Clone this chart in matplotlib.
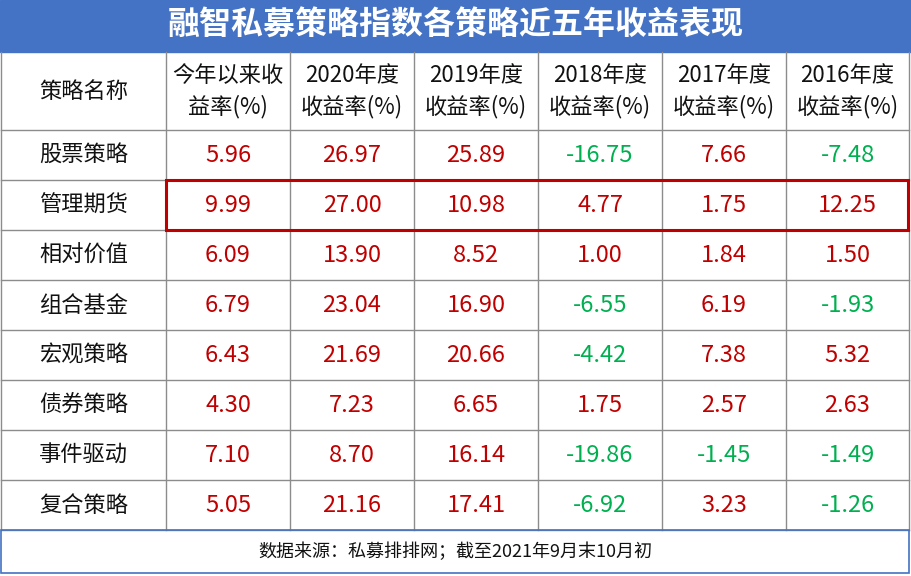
import matplotlib
matplotlib.use("Agg")
import matplotlib.pyplot as plt
from matplotlib.patches import Rectangle

plt.rcParams['font.family'] = ['Noto Sans CJK SC', 'DejaVu Sans']

title = "融智私募策略指数各策略近五年收益表现"
headers = ["策略名称", "今年以来收\n益率(%)", "2020年度\n收益率(%)", "2019年度\n收益率(%)",
           "2018年度\n收益率(%)", "2017年度\n收益率(%)", "2016年度\n收益率(%)"]
strategies = ["股票策略", "管理期货", "相对价值", "组合基金", "宏观策略", "债券策略", "事件驱动", "复合策略"]
ytd = [5.96, 9.99, 6.09, 6.79, 6.43, 4.30, 7.10, 5.05]
y2020 = [26.97, 27.00, 13.90, 23.04, 21.69, 7.23, 8.70, 21.16]
y2019 = [25.89, 10.98, 8.52, 16.90, 20.66, 6.65, 16.14, 17.41]
y2018 = [-16.75, 4.77, 1.00, -6.55, -4.42, 1.75, -19.86, -6.92]
y2017 = [7.66, 1.75, 1.84, 6.19, 7.38, 2.57, -1.45, 3.23]
y2016 = [-7.48, 12.25, 1.50, -1.93, 5.32, 2.63, -1.49, -1.26]
footer = "数据来源：私募排排网；截至2021年9月末10月初"
highlight_row = 1

cols = [ytd, y2020, y2019, y2018, y2017, y2016]
RED, GREEN, BLUE, GRID = "#C00000", "#00B050", "#4472C4", "#8C8C8C"

W, H = 911, 576
fig = plt.figure(figsize=(W/100, H/100), dpi=100)
ax = fig.add_axes([0, 0, 1, 1])
ax.set_xlim(0, W); ax.set_ylim(H, 0); ax.axis('off')

col_x = [1, 166] + [166 + 124*i for i in range(1, 7)]
col_x[-1] = 909
title_h, head_top, head_bot, row_h = 52, 52, 130, 50
foot_top = head_bot + row_h*len(strategies)
foot_bot = 573

ax.add_patch(Rectangle((0, 0), W, title_h, color=BLUE, zorder=1))
ax.text(W/2, title_h/2, title, color='white', fontsize=23, fontweight='bold', ha='center', va='center')

for x in col_x:
    ax.plot([x, x], [head_top, foot_top], color=GRID, lw=1, zorder=2)
for i in range(len(strategies) + 1):
    y = head_bot + row_h*i
    ax.plot([col_x[0], col_x[-1]], [y, y], color=GRID, lw=1, zorder=2)
ax.add_patch(Rectangle((col_x[0], foot_top), col_x[-1]-col_x[0], foot_bot-foot_top,
                       fill=False, ec=BLUE, lw=1.2, zorder=3))

for j, h in enumerate(headers):
    cx = (col_x[j] + col_x[j+1]) / 2
    ax.text(cx, (head_top + head_bot)/2, h, fontsize=16, ha='center', va='center',
            linespacing=1.4, color='#111111')

for i, name in enumerate(strategies):
    cy = head_bot + row_h*i + row_h/2
    ax.text((col_x[0]+col_x[1])/2, cy, name, fontsize=16, ha='center', va='center', color='#111111')
    for j, col in enumerate(cols):
        v = col[i]
        cx = (col_x[j+1] + col_x[j+2]) / 2
        ax.text(cx, cy, f"{v:.2f}", fontsize=17, ha='center', va='center',
                color=RED if v >= 0 else GREEN)

yb = head_bot + row_h*highlight_row
ax.add_patch(Rectangle((col_x[1], yb), col_x[-1]-col_x[1]-1, row_h, fill=False,
                       ec=RED, lw=2.2, zorder=4))

ax.text(W/2, (foot_top + foot_bot)/2, footer, fontsize=13, ha='center', va='center', color='#111111')

fig.savefig("out.png", dpi=100)
